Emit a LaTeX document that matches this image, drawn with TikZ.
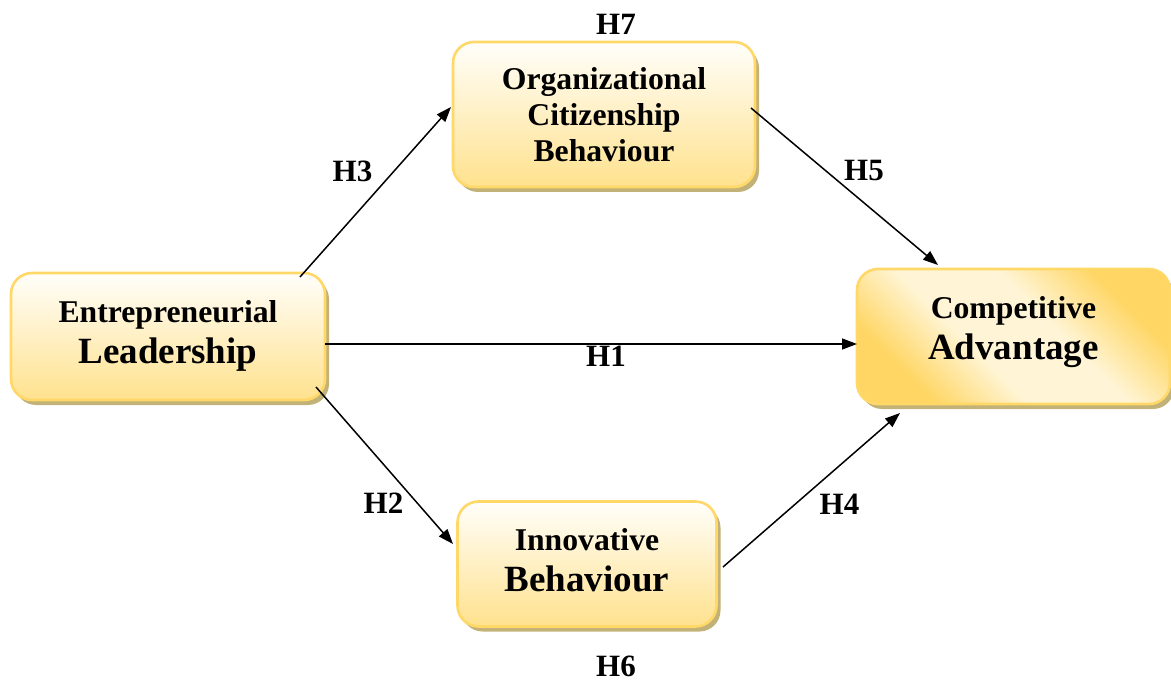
\documentclass[tikz,border=0pt]{standalone}
\usepackage{fontspec}
\setmainfont{Liberation Serif}
\usetikzlibrary{arrows.meta,shadows}

\definecolor{boxedge}{RGB}{255,216,104}
\definecolor{boxtop}{RGB}{255,254,250}
\definecolor{boxbot}{RGB}{255,226,142}
\definecolor{boxshade}{RGB}{194,178,120}
\definecolor{advgold}{RGB}{255,214,100}
\definecolor{advlight}{RGB}{255,245,214}

% 斜向渐变：两角金色、中间一条宽的浅色带
\pgfdeclareverticalshading{advband}{100bp}{color(0bp)=(advgold); color(27bp)=(advgold);
  color(42bp)=(advlight); color(58bp)=(advlight); color(73bp)=(advgold); color(100bp)=(advgold)}

\begin{document}
\begin{tikzpicture}[
  x=1pt, y=-1pt,
  % 画布按 1pt 一格，y 轴向下
  line cap=butt, line join=miter,
  factor/.style={rectangle, rounded corners=21pt, draw=boxedge, line width=2.6pt,
    top color=boxtop, bottom color=boxbot,
    inner sep=0pt, outer sep=0pt, align=center, text depth=8pt,
    font=\bfseries\fontsize{31.7pt}{41pt}\selectfont,
    drop shadow={shadow xshift=4pt, shadow yshift=-5pt, fill=boxshade, opacity=1}},
  goldbox/.style={factor, shading=advband, shading angle=-45},
  link/.style={line width=1.5pt, -{Triangle[length=15pt,width=11pt]}},
  hyp/.style={inner sep=0pt, font=\bfseries\fontsize{31pt}{31pt}\selectfont}
]
  \useasboundingbox (0,0) rectangle (1171,682);
  % ---- 方框 ----
  \node[factor, minimum width=314pt, minimum height=127pt] (lead) at (168,336.5)
    {Entrepreneurial\\{\fontsize{37pt}{41pt}\selectfont Leadership}};
  \node[factor, minimum width=302pt, minimum height=145pt, text depth=0pt,
        font=\bfseries\fontsize{31.7pt}{36pt}\selectfont] (ocb) at (604,114.5)
    {Organizational\\Citizenship\\Behaviour};
  \node[goldbox, minimum width=313pt, minimum height=135pt, text depth=17pt] (adv) at (1013.5,336.5)
    {Competitive\\{\fontsize{37pt}{41pt}\selectfont Advantage}};
  \node[factor, minimum width=259pt, minimum height=125pt] (inn) at (587,564)
    {Innovative\\{\fontsize{37pt}{41pt}\selectfont Behaviour}};
  % ---- 箭头 ----
  \draw[link] ([xshift=-25pt,yshift=-4pt]lead.north east) -- ([xshift=-2pt,yshift=7.5pt]ocb.west);
  \draw[link] ([yshift=-7.5pt]lead.east) -- ([yshift=-7.5pt]adv.west);
  \draw[link] ([xshift=-9pt,yshift=13pt]lead.south east) -- ([xshift=-4.5pt,yshift=20pt]inn.west);
  \draw[link] ([xshift=-4pt,yshift=6.5pt]ocb.east) -- ([xshift=81pt,yshift=4pt]adv.north west);
  \draw[link] ([xshift=6.5pt,yshift=-3pt]inn.east) -- ([xshift=43pt,yshift=-9pt]adv.south west);
  % ---- 假设标签 ----
  \node[hyp] (h1) at (606,356) {H1};
  \node[hyp] (h2) at (383.5,503.5) {H2};
  \node[hyp] (h3) at (352.5,171) {H3};
  \node[hyp] (h4) at (839.5,504) {H4};
  \node[hyp] (h5) at (864,171) {H5};
  \node[hyp] (h6) at (616,666) {H6};
  \node[hyp] (h7) at (616,24) {H7};
\end{tikzpicture}
\end{document}
